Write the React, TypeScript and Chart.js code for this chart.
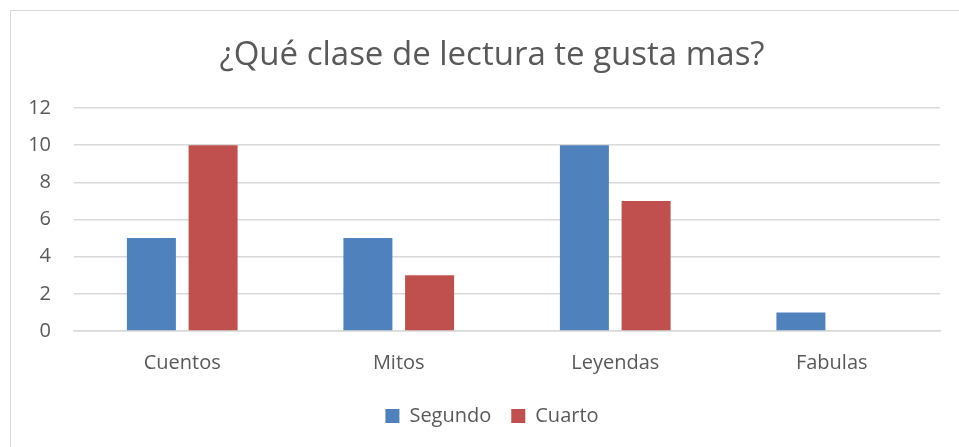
import React, { useEffect, useRef } from "react";
import { Chart, registerables } from "chart.js";

Chart.register(...registerables);

const categories = ["Cuentos", "Mitos", "Leyendas", "Fabulas"];
const segundo = [5, 5, 10, 1];
const cuarto = [10, 3, 7, 0];
const yTicks = [0, 2, 4, 6, 8, 10, 12];
const title = "¿Qué clase de lectura te gusta mas?";

const FONT = "'Open Sans', Calibri, sans-serif";
const TEXT = "#595959";

export default function App() {
  const ref = useRef<HTMLCanvasElement | null>(null);

  useEffect(() => {
    document.body.style.margin = "0";
    const ctx = ref.current!;
    const chart = new Chart(ctx, {
      type: "bar",
      data: {
        labels: categories,
        datasets: [
          {
            label: "Segundo",
            data: segundo,
            backgroundColor: "#4f81bd",
            barPercentage: 0.794,
            categoryPercentage: 0.57,
          },
          {
            label: "Cuarto",
            data: cuarto,
            backgroundColor: "#c0504d",
            barPercentage: 0.794,
            categoryPercentage: 0.57,
          },
        ],
      },
      options: {
        animation: false,
        responsive: false,
        maintainAspectRatio: false,
        layout: { padding: { left: 0, right: 0, top: 0, bottom: 11 } },
        plugins: {
          title: {
            display: true,
            text: title,
            color: TEXT,
            font: { family: FONT, size: 33, weight: "normal" },
            padding: { top: 36, bottom: 32.4 },
          },
          legend: {
            position: "bottom",
            labels: {
              color: TEXT,
              font: { family: FONT, size: 20 },
              boxWidth: 14,
              boxHeight: 14,
              padding: 20,
            },
          },
          tooltip: { enabled: false },
        },
        scales: {
          x: {
            afterFit: (s: any) => {
              s.height = 55;
            },
            grid: { display: false, drawTicks: false },
            border: { color: "#d9d9d9", width: 1.5 },
            ticks: { color: TEXT, font: { family: FONT, size: 20 }, padding: 20 },
          },
          y: {
            position: "left",
            min: 0,
            max: 12,
            afterBuildTicks: (s: any) => {
              s.ticks = yTicks.map((v) => ({ value: v }));
            },
            afterFit: (s: any) => {
              s.width = 74;
            },
            grid: { color: "#d9d9d9", lineWidth: 1.5, drawTicks: false },
            border: { display: false },
            ticks: { color: TEXT, font: { family: FONT, size: 20 }, padding: 23 },
          },
          spacer: {
            type: "linear",
            position: "right",
            min: 0,
            max: 12,
            afterFit: (s: any) => {
              s.width = 44;
            },
            grid: { display: false, drawTicks: false },
            border: { display: false },
            ticks: { display: false },
          },
        },
      },
    });
    return () => chart.destroy();
  }, []);

  return (
    <div style={{ position: "relative", width: 959, height: 447, overflow: "hidden", background: "#fff" }}>
      <div
        style={{
          position: "absolute",
          left: 10,
          top: 10,
          width: 980,
          height: 460,
          border: "1.5px solid #d9d9d9",
          boxSizing: "border-box",
        }}
      />
      <canvas ref={ref} width={984} height={447} style={{ position: "absolute", left: 0, top: 0 }} />
    </div>
  );
}
